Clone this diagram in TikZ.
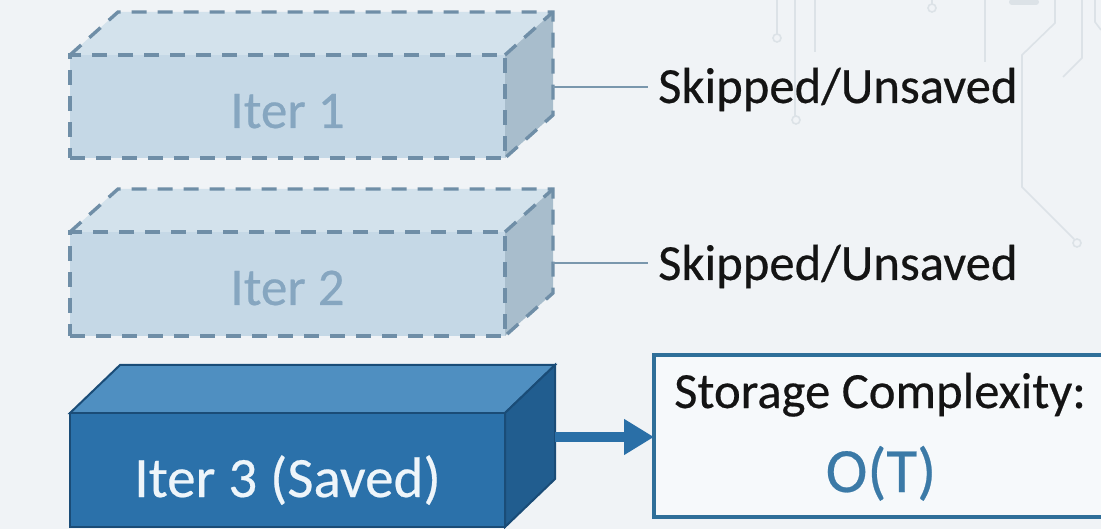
\documentclass[tikz,border=0pt]{standalone}
\usepackage{fontspec}
\setmainfont{Carlito}
\usetikzlibrary{arrows.meta,calc}
\definecolor{bg}{HTML}{F0F3F6}
\definecolor{ghostfront}{HTML}{C5D8E6}
\definecolor{ghosttop}{HTML}{D3E2EC}
\definecolor{ghostside}{HTML}{A8BDCC}
\definecolor{ghostedge}{HTML}{6F8EA7}
\definecolor{ghosttext}{HTML}{86A6C0}
\definecolor{savedfront}{HTML}{2B71AA}
\definecolor{savedtop}{HTML}{4F8FC1}
\definecolor{savedside}{HTML}{215D8F}
\definecolor{savededge}{HTML}{1A4C77}
\definecolor{savedtext}{HTML}{EEF5FA}
\definecolor{linkline}{HTML}{7A97AD}
\definecolor{arrowblue}{HTML}{2A6FA7}
\definecolor{boxedge}{HTML}{2F6F99}
\definecolor{boxfill}{HTML}{F6F9FB}
\definecolor{otblue}{HTML}{3B7AA7}
\definecolor{circuit}{HTML}{DCE2E7}
\tikzset{
  circuitline/.style={draw=circuit, line width=1.6pt},
  ghostdash/.style={draw=ghostedge, line width=3.4pt, dash pattern=on 15pt off 11pt},
  ghostfront/.style={fill=ghostfront, ghostdash, minimum width=435pt, minimum height=103pt,
     inner sep=0pt, outer sep=0pt},
  ghosttopface/.style={fill=ghosttop},
  ghostsideface/.style={fill=ghostside},
  savedface/.style={fill=savedfront, draw=savededge, line width=2pt, minimum width=435pt,
     minimum height=114pt, inner sep=0pt, outer sep=0pt},
  boxlabel/.style={inner sep=0pt, anchor=base},
  ghostlabel/.style={boxlabel, text=ghosttext, font=\fontsize{53}{60}\selectfont\addfontfeature{FakeBold=0.4}},
  savedlabel/.style={boxlabel, text=savedtext, font=\fontsize{57}{64}\selectfont\addfontfeature{FakeBold=0.4}},
  sidelabel/.style={inner sep=0pt, anchor=base west, text=black!92, font=\fontsize{50.7}{60}\selectfont\addfontfeature{FakeBold=0.4}},
  link/.style={draw=linkline, line width=2.6pt},
  bigarrow/.style={draw=arrowblue, line width=10pt, -{Triangle[length=30pt, width=34pt]}},
  storebox/.style={draw=boxedge, fill=boxfill, line width=3.2pt, minimum width=460pt,
     minimum height=162pt, inner sep=0pt, outer sep=0pt},
}
\begin{document}
\begin{tikzpicture}[x=1pt,y=-1pt]
\fill[bg] (0,0) rectangle (1101,529);
\useasboundingbox (0,0) rectangle (1101,529);
\clip (0,0) rectangle (1101,529);

% faint circuit pattern
\draw[circuitline] (777,0) -- (777,34);
\draw[circuitline] (777,38) circle (4);
\draw[circuitline] (795,0) -- (795,116);
\draw[circuitline] (796,120) circle (4);
\draw[circuitline] (815,0) -- (815,52);
\draw[circuitline] (932,0) -- (932,4);
\draw[circuitline] (932,8) circle (4);
\draw[circuitline] (985,0) -- (985,62);
\draw[circuitline, line width=6pt, line cap=round] (1012,2) -- (1036,2);
\draw[circuitline] (1055,0) -- (1055,23) -- (1022,55) -- (1022,187) -- (1074,239);
\draw[circuitline] (1077,243) circle (4);
\draw[circuitline] (1082,0) -- (1082,58) -- (1063,77);
\draw[circuitline] (1095,0) -- (1095,22) -- (1101,30);

% ---- Iter 1 (ghost) ----
\path[ghosttopface] (70,55) -- (505,55) -- ++(48,-43) -- (118,12) -- cycle;
\path[ghostsideface] (505,55) -- ++(48,-43) -- ++(0,103) -- (505,158) -- cycle;
\node[ghostfront] (it1) at (287.5,106.5) {};
\draw[ghostdash] (it1.north west) -- ++(48,-43) -- ++(435,0) -- ++(0,103) -- (it1.south east);
\draw[ghostdash] (it1.north east) -- ++(48,-43);
\node[ghostlabel] (t1) at (287.5,128) {Iter 1};
\coordinate (c1) at (553,87);
\node[sidelabel] (sk1) at (658,103) {Skipped/Unsaved};
\draw[link] (c1) -- ($(c1 -| sk1.west)+(-10,0)$);

% ---- Iter 2 (ghost) ----
\path[ghosttopface] (70,232) -- (505,232) -- ++(48,-43) -- (118,189) -- cycle;
\path[ghostsideface] (505,232) -- ++(48,-43) -- ++(0,104) -- (505,336) -- cycle;
\node[ghostfront, minimum height=104pt] (it2) at (287.5,284) {};
\draw[ghostdash] (it2.north west) -- ++(48,-43) -- ++(435,0) -- ++(0,104) -- (it2.south east);
\draw[ghostdash] (it2.north east) -- ++(48,-43);
\node[ghostlabel] (t2) at (287.5,305) {Iter 2};
\coordinate (c2) at (553,263);
\node[sidelabel] (sk2) at (658,280) {Skipped/Unsaved};
\draw[link] (c2) -- ($(c2 -| sk2.west)+(-10,0)$);

% ---- Iter 3 (saved) ----
\draw[fill=savedtop, draw=savededge, line width=2pt] (70,413) -- (505,413) -- ++(50,-48) -- (120,365) -- cycle;
\draw[fill=savedside, draw=savededge, line width=2pt] (505,413) -- ++(50,-48) -- ++(0,114) -- (505,527) -- cycle;
\node[savedface] (it3) at (287.5,470) {};
\node[savedlabel] (t3) at (287.5,497) {Iter 3 (Saved)};

% ---- Storage box ----
\node[storebox] (stor) at (884,436) {};
\node[sidelabel] (st) at (674,408) {Storage Complexity:};
\node[inner sep=0pt, anchor=base, text=otblue, font=\fontsize{63}{70}\selectfont\addfontfeature{FakeBold=0.4}] (ot) at (881,492) {O(T)};

\coordinate (c3) at (555,437);
\draw[bigarrow] (c3) -- (c3 -| stor.west);
\end{tikzpicture}
\end{document}
